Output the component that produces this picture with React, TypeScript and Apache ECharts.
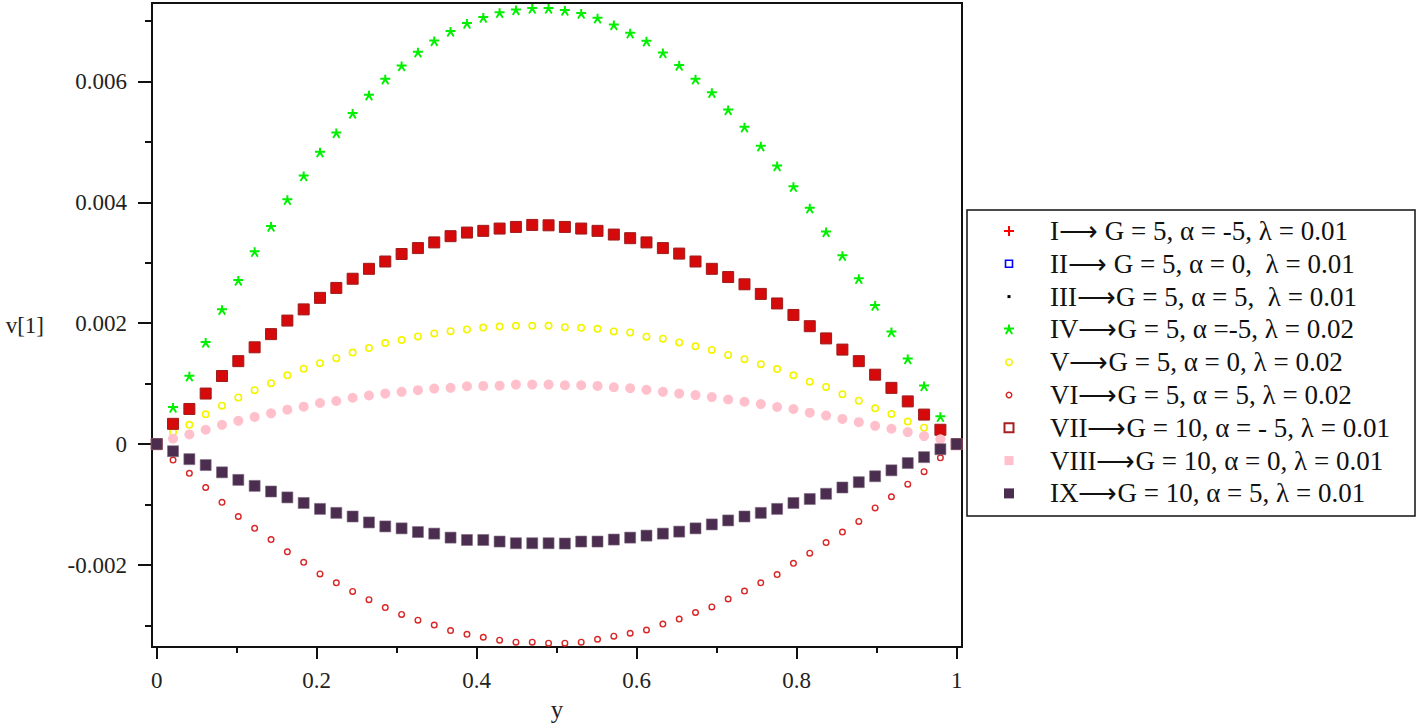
import React, { useEffect, useRef } from "react";
import * as echarts from "echarts";

// sample positions along y (50 points, 0 .. 1)
const yPositions = [
  0, 0.0204, 0.0408, 0.0612, 0.0816, 0.102, 0.1224, 0.1429, 0.1633, 0.1837,
  0.2041, 0.2245, 0.2449, 0.2653, 0.2857, 0.3061, 0.3265, 0.3469, 0.3673, 0.3878,
  0.4082, 0.4286, 0.449, 0.4694, 0.4898, 0.5102, 0.5306, 0.551, 0.5714, 0.5918,
  0.6122, 0.6327, 0.6531, 0.6735, 0.6939, 0.7143, 0.7347, 0.7551, 0.7755, 0.7959,
  0.8163, 0.8367, 0.8571, 0.8776, 0.898, 0.9184, 0.9388, 0.9592, 0.9796, 1,
];

// values of v[1], in units of 0.001
const SCALE = 0.001;

const vVII = [
  0, 0.335, 0.581, 0.836, 1.126, 1.372, 1.601, 1.819, 2.043, 2.228,
  2.419, 2.583, 2.735, 2.899, 3.02, 3.144, 3.242, 3.336, 3.439, 3.499,
  3.527, 3.565, 3.592, 3.625, 3.619, 3.592, 3.565, 3.527, 3.466, 3.406,
  3.336, 3.242, 3.151, 3.02, 2.899, 2.763, 2.643, 2.484, 2.326, 2.136,
  1.95, 1.748, 1.563, 1.372, 1.148, 0.93, 0.706, 0.488, 0.237, 0,
];
// series I, II, III coincide with VII in the figure (hidden under its markers)
const vI = vVII.slice();
const vII = vVII.slice();
const vIII = vVII.slice();

const vIV = [
  0, 0.597, 1.115, 1.671, 2.212, 2.697, 3.172, 3.592, 4.034, 4.427,
  4.82, 5.136, 5.458, 5.763, 6.025, 6.244, 6.473, 6.658, 6.817, 6.948,
  7.046, 7.128, 7.17, 7.198, 7.198, 7.165, 7.116, 7.034, 6.925, 6.789,
  6.653, 6.462, 6.254, 6.025, 5.802, 5.517, 5.234, 4.918, 4.591, 4.247,
  3.892, 3.499, 3.106, 2.725, 2.283, 1.846, 1.399, 0.951, 0.444, 0,
];

const vV = [
  0, 0.198, 0.319, 0.493, 0.635, 0.771, 0.892, 1.007, 1.137, 1.246,
  1.339, 1.421, 1.514, 1.589, 1.671, 1.72, 1.781, 1.83, 1.867, 1.895,
  1.928, 1.944, 1.956, 1.956, 1.956, 1.933, 1.923, 1.907, 1.863, 1.846,
  1.776, 1.743, 1.682, 1.617, 1.557, 1.475, 1.404, 1.322, 1.241, 1.137,
  1.033, 0.946, 0.826, 0.717, 0.591, 0.499, 0.373, 0.27, 0.152, 0,
];

const vVI = [
  0, -0.265, -0.483, -0.718, -0.964, -1.198, -1.394, -1.579, -1.782, -1.956,
  -2.147, -2.295, -2.437, -2.573, -2.704, -2.818, -2.912, -2.993, -3.085, -3.146,
  -3.195, -3.244, -3.277, -3.277, -3.293, -3.293, -3.277, -3.228, -3.178, -3.129,
  -3.075, -2.977, -2.895, -2.786, -2.693, -2.562, -2.431, -2.295, -2.159, -1.973,
  -1.804, -1.629, -1.455, -1.28, -1.056, -0.871, -0.663, -0.457, -0.227, 0,
];

const vVIII = [
  0, 0.09, 0.16, 0.237, 0.319, 0.385, 0.45, 0.509, 0.57, 0.619,
  0.679, 0.712, 0.766, 0.804, 0.836, 0.864, 0.892, 0.918, 0.93, 0.957,
  0.962, 0.967, 0.984, 0.984, 0.984, 0.973, 0.973, 0.962, 0.94, 0.924,
  0.897, 0.864, 0.836, 0.81, 0.777, 0.738, 0.7, 0.662, 0.613, 0.581,
  0.52, 0.471, 0.417, 0.362, 0.302, 0.253, 0.198, 0.133, 0.079, 0,
];

const vIX = [
  0, -0.118, -0.249, -0.347, -0.467, -0.592, -0.691, -0.784, -0.882, -0.974,
  -1.072, -1.138, -1.198, -1.296, -1.362, -1.394, -1.455, -1.481, -1.547, -1.586,
  -1.586, -1.612, -1.64, -1.64, -1.64, -1.645, -1.612, -1.612, -1.579, -1.547,
  -1.514, -1.481, -1.448, -1.394, -1.329, -1.263, -1.198, -1.138, -1.072, -0.974,
  -0.908, -0.822, -0.718, -0.63, -0.532, -0.434, -0.314, -0.216, -0.085, 0,
];

const seriesNames = [
  "I⟶ G = 5, α = -5, λ = 0.01",
  "II⟶ G = 5, α = 0,  λ = 0.01",
  "III⟶G = 5, α = 5,  λ = 0.01",
  "IV⟶G = 5, α =-5, λ = 0.02",
  "V⟶G = 5, α = 0, λ = 0.02",
  "VI⟶G = 5, α = 5, λ = 0.02",
  "VII⟶G = 10, α = - 5, λ = 0.01",
  "VIII⟶G = 10, α = 0, λ = 0.01",
  "IX⟶G = 10, α = 5, λ = 0.01",
];
const seriesColors = ["#ff0000", "#0000ff", "#000000", "#00f000", "#f4f400", "#d92626", "#a82020", "#ffc0cb", "#4b2d4f"];

const xMajorTicks = [0, 0.2, 0.4, 0.6, 0.8, 1];
const xMinorTicks = [0.1, 0.3, 0.5, 0.7, 0.9];
const yMajorTicks = [-0.002, 0, 0.002, 0.004, 0.006];
const yMinorTicks = [-0.003, -0.001, 0.001, 0.003, 0.005, 0.007];

// marker shapes
const STAR_D = "M4,0H6V5H4Z M0,3H10V5H0Z M4,4L6,5L2.5,10L1,9Z M6,4L9,9L7.5,10L4,5Z";
const CROSS = "path://M4,0H6V4H10V6H6V10H4V6H0V4H4Z";
const STAR = "path://" + STAR_D;
const RING = "path://M0,4A4,4,0,1,1,8,4A4,4,0,1,1,0,4Z M1.6,4A2.4,2.4,0,1,0,6.4,4A2.4,2.4,0,1,0,1.6,4Z";
const HOLLOW_SQ = "path://M0,0H10V10H0Z M2,2V8H8V2Z";

echarts.graphic.registerShape("legendStar", echarts.graphic.extendPath(STAR_D, {}) as any);

const FONT = "Liberation Serif";

function legendGraphics() {
  const els: any[] = [];
  const cx = 1009;
  const tx = 1050;
  const y0 = 231;
  const pitch = 32.8;
  els.push({
    type: "rect",
    shape: { x: 967, y: 210, width: 448, height: 306 },
    style: { fill: "#fff", stroke: "#111", lineWidth: 1.5 },
    silent: true,
    z: 10,
  });
  seriesNames.forEach((name, i) => {
    const cy = y0 + i * pitch;
    const c = seriesColors[i];
    let icon: any[] = [];
    switch (i) {
      case 0:
        icon = [
          { type: "rect", shape: { x: cx - 5, y: cy - 1, width: 10, height: 2 }, style: { fill: c } },
          { type: "rect", shape: { x: cx - 1, y: cy - 5, width: 2, height: 10 }, style: { fill: c } },
        ];
        break;
      case 1:
        icon = [{ type: "rect", shape: { x: cx - 3.5, y: cy - 3.5, width: 7, height: 7 }, style: { fill: "none", stroke: c, lineWidth: 1.6 } }];
        break;
      case 2:
        icon = [{ type: "rect", shape: { x: cx - 1.5, y: cy - 1.5, width: 3, height: 3 }, style: { fill: c } }];
        break;
      case 3:
        icon = [{ type: "legendStar", x: cx - 5, y: cy - 5, style: { fill: c } }];
        break;
      case 4:
        icon = [{ type: "ring", shape: { cx, cy, r: 4, r0: 2.4 }, style: { fill: c } }];
        break;
      case 5:
        icon = [{ type: "ring", shape: { cx, cy, r: 3.5, r0: 2 }, style: { fill: c } }];
        break;
      case 6:
        icon = [{ type: "rect", shape: { x: cx - 4.5, y: cy - 4.5, width: 9, height: 9 }, style: { fill: "none", stroke: c, lineWidth: 2 } }];
        break;
      case 7:
        icon = [{ type: "rect", shape: { x: cx - 4.5, y: cy - 4.5, width: 9, height: 9 }, style: { fill: c } }];
        break;
      default:
        icon = [{ type: "rect", shape: { x: cx - 5, y: cy - 5, width: 10, height: 10 }, style: { fill: c } }];
    }
    icon.forEach((e) => els.push({ ...e, silent: true, z: 11 }));
    els.push({
      type: "text",
      x: tx,
      y: cy,
      silent: true,
      z: 11,
      style: {
        text: name,
        fontFamily: FONT,
        fontSize: 27,
        fill: "#111",
        align: "left",
        verticalAlign: "middle",
      },
    });
  });
  return els;
}

export default function App() {
  const ref = useRef<HTMLDivElement>(null);

  useEffect(() => {
    const chart = echarts.init(ref.current!, null, { renderer: "svg" });
    const toData = (vals: number[]) => yPositions.map((x, i) => [x, vals[i] * SCALE]);

    const mk = (i: number, vals: number[], symbol: string, size: number, itemStyle: any, z = 2) => ({
      type: "scatter",
      name: seriesNames[i],
      data: toData(vals),
      symbol,
      symbolSize: size,
      itemStyle: { opacity: 1, ...itemStyle },
      emphasis: { disabled: true },
      silent: true,
      z,
    });

    const series = [
      mk(0, vI, CROSS, 10, { color: seriesColors[0] }, 1),
      mk(1, vII, HOLLOW_SQ, 7, { color: seriesColors[1] }, 1),
      mk(2, vIII, "rect", 3, { color: seriesColors[2] }, 1),
      mk(3, vIV, STAR, 10, { color: seriesColors[3] }),
      mk(4, vV, RING, 8, { color: seriesColors[4] }),
      mk(5, vVI, RING, 7, { color: seriesColors[5] }),
      mk(6, vVII, "rect", 11, { color: "#d60a0a", borderColor: "#9e1c1c", borderWidth: 1 }),
      mk(7, vVIII, "circle", 10, { color: seriesColors[7] }),
      mk(8, vIX, "rect", 11, { color: seriesColors[8], borderColor: "#7d6a80", borderWidth: 0.6 }),
    ];

    const labelStyle = { fontFamily: FONT, fontSize: 23, color: "#222" };
    const tickLine = { color: "#111", width: 2 };

    chart.setOption({
      animation: false,
      backgroundColor: "#ffffff",
      grid: {
        left: 152,
        top: 3,
        width: 810,
        height: 651,
        show: true,
        borderColor: "#111",
        borderWidth: 2,
        backgroundColor: "transparent",
      },
      xAxis: [
        {
          type: "value",
          min: -0.0059,
          max: 1.0066,
          name: "y",
          nameLocation: "middle",
          nameGap: 47,
          nameTextStyle: { fontFamily: FONT, fontSize: 25, color: "#222" },
          axisLine: { show: true, onZero: false, lineStyle: tickLine },
          axisTick: { show: true, inside: false, length: 12, customValues: xMajorTicks, lineStyle: tickLine },
          axisLabel: {
            ...labelStyle,
            margin: 22,
            customValues: xMajorTicks,
            formatter: (v: number) => String(+v.toFixed(1)),
          },
          splitLine: { show: false },
        },
        {
          type: "value",
          min: -0.0059,
          max: 1.0066,
          position: "bottom",
          axisLine: { show: false, onZero: false },
          axisTick: { show: true, inside: false, length: 6, customValues: xMinorTicks, lineStyle: tickLine },
          axisLabel: { show: false },
          splitLine: { show: false },
        },
      ],
      yAxis: [
        {
          type: "value",
          min: -0.003358,
          max: 0.007296,
          name: "v[1]",
          nameLocation: "middle",
          nameRotate: 0,
          nameGap: 108,
          nameTextStyle: { fontFamily: FONT, fontSize: 23, color: "#222" },
          axisLine: { show: true, onZero: false, lineStyle: tickLine },
          axisTick: { show: true, inside: false, length: 14, customValues: yMajorTicks, lineStyle: tickLine },
          axisLabel: {
            ...labelStyle,
            margin: 25,
            customValues: yMajorTicks,
            formatter: (v: number) => String(+v.toFixed(3)),
          },
          splitLine: { show: false },
        },
        {
          type: "value",
          min: -0.003358,
          max: 0.007296,
          position: "left",
          axisLine: { show: false, onZero: false },
          axisTick: { show: true, inside: false, length: 7, customValues: yMinorTicks, lineStyle: tickLine },
          axisLabel: { show: false },
          splitLine: { show: false },
        },
      ],
      graphic: legendGraphics(),
      series,
    });

    return () => chart.dispose();
  }, []);

  return (
    <div
      ref={ref}
      style={{ position: "fixed", left: 0, top: 0, width: 1418, height: 727, background: "#fff" }}
    />
  );
}
